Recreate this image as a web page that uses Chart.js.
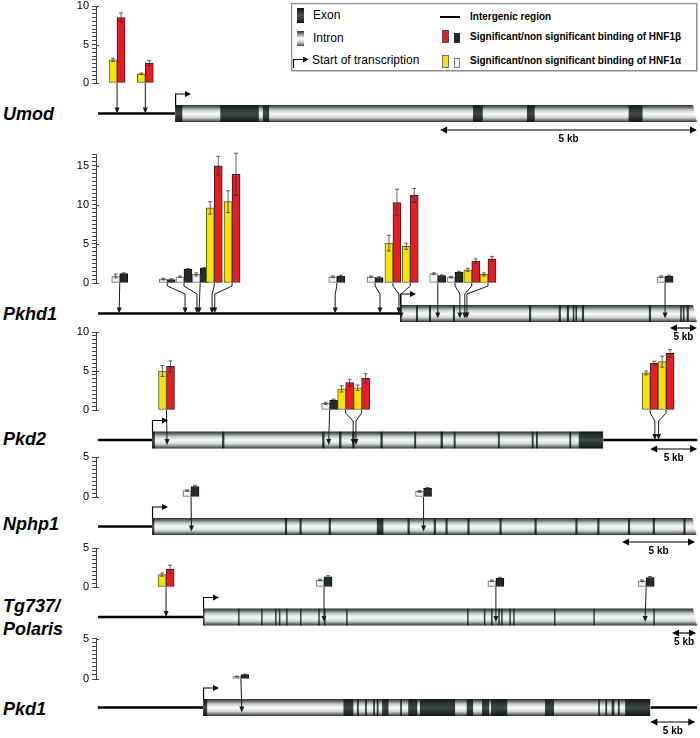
<!DOCTYPE html>
<html>
<head>
<meta charset="utf-8">
<script src="https://cdn.jsdelivr.net/npm/chart.js@4.4.1/dist/chart.umd.min.js"></script>
<style>
  body { margin: 0; width: 700px; height: 738px; position: relative; overflow: hidden; background: #fff;
         font-family: "Liberation Sans", Arial, sans-serif; }
  canvas { position: absolute; left: 0; }
  .gene { position: absolute; left: 3px; font: italic bold 18px "Liberation Sans", Arial, sans-serif; line-height: 20px; white-space: nowrap; }
  .lg { position: absolute; white-space: nowrap; color: #000; }
  .lg.n { font-size: 12px; line-height: 14px; }
  .lg.b { font-size: 10px; font-weight: bold; line-height: 12px; }
  #legendBox { position: absolute; left: 291px; top: 3px; width: 404px; height: 66px;
               border: 1px solid #8c8c8c; box-shadow: 1px 1px 0 #c8c8c8, inset 1px 1px 0 #e4e4e4; }
</style>
</head>
<body>

<div id="legendBox"></div>
<svg width="700" height="75" style="position:absolute;left:0;top:0">
  <defs>
    <linearGradient id="gExon" x1="0" y1="0" x2="0" y2="1">
      <stop offset="0" stop-color="#0d1514"/><stop offset="0.5" stop-color="#4d5654"/><stop offset="1" stop-color="#0d1514"/>
    </linearGradient>
    <linearGradient id="gIntron" x1="0" y1="0" x2="0" y2="1">
      <stop offset="0" stop-color="#2c3634"/><stop offset="0.25" stop-color="#9aa09f"/><stop offset="0.5" stop-color="#ffffff"/>
      <stop offset="0.75" stop-color="#c8cbca"/><stop offset="1" stop-color="#3a4442"/>
    </linearGradient>
  </defs>
  <rect x="297" y="8" width="7" height="15" fill="url(#gExon)"/>
  <rect x="297" y="31" width="7" height="15" fill="url(#gIntron)"/>
  <path d="M293.5 68 V59.5 H304" stroke="#000" stroke-width="1.2" fill="none"/>
  <polygon points="303,56.5 308.5,59.5 303,62.5" fill="#000"/>
  <line x1="440" y1="17" x2="460" y2="17" stroke="#000" stroke-width="2"/>
  <rect x="442.5" y="30.5" width="6" height="12" fill="#e21e26" stroke="#333" stroke-width="0.8"/>
  <rect x="454.5" y="33.5" width="5" height="9" fill="#1f2d2b" stroke="#111" stroke-width="0.8"/>
  <rect x="442.5" y="55.5" width="6" height="12" fill="#f4e20c" stroke="#555" stroke-width="0.8"/>
  <rect x="454.5" y="58.5" width="5" height="9" fill="#f4f4f4" stroke="#666" stroke-width="0.8"/>
</svg>
<span class="lg n" style="left:313px;top:8px">Exon</span>
<span class="lg n" style="left:313px;top:31px">Intron</span>
<span class="lg n" style="left:312px;top:53px">Start of transcription</span>
<span class="lg b" style="left:470px;top:11px">Intergenic region</span>
<span class="lg b" style="left:470px;top:31px">Significant/non significant binding of HNF1β</span>
<span class="lg b" style="left:470px;top:55px">Significant/non significant binding of HNF1α</span>

<div class="gene" style="top:104px">Umod</div>
<div class="gene" style="top:304px">Pkhd1</div>
<div class="gene" style="top:429px">Pkd2</div>
<div class="gene" style="top:514px">Nphp1</div>
<div class="gene" style="top:596px">Tg737/</div>
<div class="gene" style="top:619px">Polaris</div>
<div class="gene" style="top:699px">Pkd1</div>

<script>
// y-axis labels (fold enrichment), minor ticks every 0.5
const majorTicks = [0, 5, 10, 15];

// all positions in kb relative to the start of transcription
// gene = [intergenic start, gene start, gene end, intergenic end (null = gene continues)]

// Umod
const umodView = [-1.54, 10.18];
const umodGene = [-1.5, 0, 10.16, null];
const umodExons = [[0, 0.14], [0.88, 1.63], [1.71, 1.83], [5.8, 5.99], [6.85, 7.0], [8.83, 9.1]];
const umodScale = [5.16, 10.16];
const umodBarPos = [-1.13, -0.58];
const umodSites = [-1.13, -0.58];
const umodAlpha = [3.0, 1.2];
const umodAlphaErr = [0.2, 0.1];
const umodBeta = [8.5, 2.6];
const umodBetaErr = [0.6, 0.35];
const umodSig = [true, true];

// Pkhd1
const pkhd1View = [-56.3, 55.2];
const pkhd1Gene = [-55.9, 0, 55.0, null];
const pkhd1Exons = [[0, 0.2], [2.96, 3.33], [5.37, 5.74], [9.81, 10.18], [23.9, 24.3], [29.4, 29.8], [30.9, 31.3],
  [32.0, 32.3], [32.5, 32.8], [33.7, 34.1], [46.1, 46.5], [51.9, 52.2], [52.4, 52.7], [53.1, 53.5]];
const pkhd1Scale = [50.0, 55.0];
const pkhd1BarPos = [-51.9, -43.1, -40.0, -37.0, -34.4, -31.1, -11.7, -4.6, -1.3, 1.9, 7.0, 10.2, 13.3, 16.3, 49.1];
const pkhd1Sites = [-52.0, -39.8, -37.6, -37.2, -34.8, -34.3, -12.0, -3.7, -0.2, 0.2, 7.0, 11.1, 12.0, 12.4, 49.1];
const pkhd1Alpha = [0.9, 0.5, 0.8, 1.1, 9.6, 10.4, 0.8, 0.8, 5.1, 4.7, 1.2, 0.75, 1.7, 1.1, 0.8];
const pkhd1AlphaErr = [0.25, 0.1, 0.1, 0.2, 0.8, 1.4, 0.1, 0.1, 1.0, 0.4, 0.1, 0.1, 0.2, 0.2, 0.1];
const pkhd1Beta = [1.2, 0.45, 1.75, 1.9, 15.0, 13.9, 0.9, 0.7, 10.3, 11.2, 0.95, 1.4, 2.8, 3.1, 0.9];
const pkhd1BetaErr = [0.1, 0.1, 0.1, 0.1, 1.2, 2.7, 0.1, 0.1, 1.7, 0.9, 0.1, 0.1, 0.3, 0.3, 0.1];
const pkhd1Sig = [false, false, false, false, true, true, false, false, true, true, false, false, true, true, false];

// Pkd2
const pkd2View = [-5.96, 58.09];
const pkd2Gene = [-5.74, 0, 48.0, 58.0];
const pkd2Exons = [[0, 0.3], [7.45, 7.7], [18.1, 18.35], [19.9, 20.15], [21.3, 21.55], [24.3, 24.55], [27.9, 28.1],
  [30.7, 30.95], [32.1, 32.3], [36.8, 37.0], [40.4, 40.6], [40.85, 41.05], [44.4, 44.6], [45.4, 48.0]];
const pkd2Scale = [53.0, 58.0];
const pkd2BarPos = [1.54, 18.9, 20.6, 22.3, 53.0, 54.7];
const pkd2Sites = [1.6, 18.8, 21.4, 21.7, 53.5, 53.9];
const pkd2Alpha = [5.0, 0.85, 2.7, 2.85, 4.75, 6.2];
const pkd2AlphaErr = [0.7, 0.15, 0.4, 0.35, 0.25, 0.7];
const pkd2Beta = [5.6, 1.25, 3.5, 4.05, 6.0, 7.25];
const pkd2BetaErr = [0.7, 0.15, 0.45, 0.6, 0.25, 0.5];
const pkd2Sig = [true, false, true, true, true, true];

// Nphp1
const nphp1View = [-3.84, 37.4];
const nphp1Gene = [-3.7, 0, 37.3, null];
const nphp1Exons = [[0, 0.15], [9.1, 9.25], [10.1, 10.25], [12.1, 12.25], [15.4, 15.85], [17.5, 17.65], [19.3, 19.45],
  [20.1, 20.25], [21.6, 21.75], [23.8, 23.95], [26.2, 26.35], [29.0, 29.15], [30.5, 30.65], [32.6, 32.75],
  [34.3, 34.45], [36.4, 36.55]];
const nphp1Scale = [32.2, 37.2];
const nphp1BarPos = [2.67, 18.6];
const nphp1Sites = [2.7, 18.6];
const nphp1Alpha = [0.8, 0.7];
const nphp1AlphaErr = [0.1, 0.1];
const nphp1Beta = [1.3, 1.1];
const nphp1BetaErr = [0.15, 0.1];
const nphp1Sig = [false, false];

// Tg737/Polaris
const tg737View = [-22.3, 103.1];
const tg737Gene = [-21.9, 0, 102.9, null];
const tg737Exons = [[0, 0.25], [7.3, 7.6], [12.1, 12.4], [15.0, 15.3], [15.8, 16.1], [17.3, 17.6], [20.2, 20.5],
  [24.0, 24.3], [25.2, 25.5], [29.8, 30.1], [55.0, 55.3], [58.5, 58.8], [60.0, 60.3], [61.5, 61.8], [62.1, 62.4],
  [63.8, 64.1], [64.6, 64.9], [73.1, 73.4], [81.3, 81.6], [93.8, 94.1]];
const tg737Scale = [97.7, 102.7];
const tg737BarPos = [-7.7, 25.2, 61.0, 92.3];
const tg737Sites = [-7.7, 25.2, 61.0, 92.1];
const tg737Alpha = [1.6, 0.9, 0.8, 0.8];
const tg737AlphaErr = [0.2, 0.1, 0.1, 0.1];
const tg737Beta = [2.3, 1.3, 1.1, 1.2];
const tg737BetaErr = [0.5, 0.15, 0.15, 0.15];
const tg737Sig = [true, false, false, false];

// Pkd1
const pkd1View = [-11.9, 55.0];
const pkd1Gene = [-11.7, 0, 49.7, 54.9];
const pkd1Exons = [[0, 0.45], [15.6, 16.7], [17.1, 17.3], [18.0, 18.2], [18.9, 19.1], [19.3, 19.5], [19.9, 20.6],
  [21.9, 22.1], [22.8, 23.8], [24.1, 28.0], [29.3, 30.0], [31.0, 31.8], [32.0, 33.8], [38.0, 39.0], [43.9, 44.1],
  [44.7, 44.9], [45.4, 45.7], [46.1, 46.3], [46.9, 49.7]];
const pkd1Scale = [49.7, 54.7];
const pkd1BarPos = [4.2];
const pkd1Sites = [4.3];
const pkd1Alpha = [0.3];
const pkd1AlphaErr = [0.05];
const pkd1Beta = [0.55];
const pkd1BetaErr = [0.05];
const pkd1Sig = [false];

const FONT = "'Liberation Sans', Arial, sans-serif";

// page geometry of each panel (pixels)
const panels = [
  { name: "umod", yMax: 10, view: umodView, gene: umodGene, exons: umodExons, scale: umodScale,
    barPos: umodBarPos, sites: umodSites, alpha: umodAlpha, alphaErr: umodAlphaErr, beta: umodBeta, betaErr: umodBetaErr, sig: umodSig,
    layout: { top: -6, height: 150, plotTop: 6, plotBottom: 83, geneY: 113.5, scaleY: 130 } },
  { name: "pkhd1", yMax: 16.5, view: pkhd1View, gene: pkhd1Gene, exons: pkhd1Exons, scale: pkhd1Scale,
    barPos: pkhd1BarPos, sites: pkhd1Sites, alpha: pkhd1Alpha, alphaErr: pkhd1AlphaErr, beta: pkhd1Beta, betaErr: pkhd1BetaErr, sig: pkhd1Sig,
    layout: { top: 142, height: 200, plotTop: 154, plotBottom: 283, geneY: 313.5, scaleY: 328 } },
  { name: "pkd2", yMax: 10, view: pkd2View, gene: pkd2Gene, exons: pkd2Exons, scale: pkd2Scale,
    barPos: pkd2BarPos, sites: pkd2Sites, alpha: pkd2Alpha, alphaErr: pkd2AlphaErr, beta: pkd2Beta, betaErr: pkd2BetaErr, sig: pkd2Sig,
    layout: { top: 320, height: 146, plotTop: 332, plotBottom: 410, geneY: 440, scaleY: 449 } },
  { name: "nphp1", yMax: 5, view: nphp1View, gene: nphp1Gene, exons: nphp1Exons, scale: nphp1Scale,
    barPos: nphp1BarPos, sites: nphp1Sites, alpha: nphp1Alpha, alphaErr: nphp1AlphaErr, beta: nphp1Beta, betaErr: nphp1BetaErr, sig: nphp1Sig,
    layout: { top: 445, height: 113, plotTop: 457, plotBottom: 497, geneY: 526.5, scaleY: 542 } },
  { name: "tg737", yMax: 5, view: tg737View, gene: tg737Gene, exons: tg737Exons, scale: tg737Scale,
    barPos: tg737BarPos, sites: tg737Sites, alpha: tg737Alpha, alphaErr: tg737AlphaErr, beta: tg737Beta, betaErr: tg737BetaErr, sig: tg737Sig,
    layout: { top: 536, height: 113, plotTop: 548, plotBottom: 587, geneY: 617, scaleY: 633 } },
  { name: "pkd1", yMax: 5, view: pkd1View, gene: pkd1Gene, exons: pkd1Exons, scale: pkd1Scale,
    barPos: pkd1BarPos, sites: pkd1Sites, alpha: pkd1Alpha, alphaErr: pkd1AlphaErr, beta: pkd1Beta, betaErr: pkd1BetaErr, sig: pkd1Sig,
    layout: { top: 626, height: 112, plotTop: 638.5, plotBottom: 679, geneY: 707.5, scaleY: 722 } },
];

/* small filled arrow head pointing in direction (dx, dy) */
function arrowHead(ctx, x, y, dx, dy, len, half) {
  ctx.beginPath();
  ctx.moveTo(x, y);
  ctx.lineTo(x - dx * len - dy * half, y - dy * len + dx * half);
  ctx.lineTo(x - dx * len + dy * half, y - dy * len - dx * half);
  ctx.closePath();
  ctx.fill();
}

/* Draws error bars, the gene diagram, binding site arrows and the 5 kb scale. */
function makeGenePlugin(p) {
  return {
    id: "gene_" + p.name,
    afterDatasetsDraw(chart) {
      const ctx = chart.ctx;
      const xs = chart.scales.x;
      const ys = chart.scales.y;
      const L = p.layout;
      const X = (v) => xs.getPixelForValue(v);
      const gy = L.geneY - L.top;
      const h = 17;
      const top = gy - h / 2;
      const zeroY = ys.getPixelForValue(0);

      ctx.save();

      // major ticks cross the axis
      ctx.strokeStyle = "#444";
      ctx.lineWidth = 1;
      majorTicks.filter((v) => v <= p.yMax).forEach((v) => {
        const ty = Math.round(ys.getPixelForValue(v)) + 0.5;
        ctx.beginPath();
        ctx.moveTo(chart.chartArea.left, ty);
        ctx.lineTo(chart.chartArea.left + 3, ty);
        ctx.stroke();
      });

      // error bars
      [[p.alpha, p.alphaErr], [p.beta, p.betaErr]].forEach(([vals, errs], d) => {
        chart.getDatasetMeta(d).data.forEach((bar, j) => {
          const yHi = ys.getPixelForValue(vals[j] + errs[j]);
          const yLo = ys.getPixelForValue(Math.max(0, vals[j] - errs[j]));
          ctx.strokeStyle = "rgba(50,50,50,0.75)";
          ctx.lineWidth = 1;
          ctx.beginPath();
          ctx.moveTo(bar.x, yLo);
          ctx.lineTo(bar.x, yHi);
          ctx.moveTo(bar.x - 2, yHi);
          ctx.lineTo(bar.x + 2, yHi);
          ctx.moveTo(bar.x - 2, yLo);
          ctx.lineTo(bar.x + 2, yLo);
          ctx.stroke();
        });
      });

      // intergenic region
      ctx.strokeStyle = "#000";
      ctx.lineWidth = 2.5;
      ctx.beginPath();
      ctx.moveTo(X(p.gene[0]), gy);
      ctx.lineTo(X(p.gene[1]), gy);
      if (p.gene[3] !== null) {
        ctx.moveTo(X(p.gene[2]), gy);
        ctx.lineTo(X(p.gene[3]), gy);
      }
      ctx.stroke();

      // gene tube
      const x0 = X(p.gene[1]);
      const x1 = X(p.gene[2]);
      const open = p.gene[3] === null;
      const tube = () => {
        ctx.beginPath();
        ctx.moveTo(x0, top);
        ctx.lineTo(open ? x1 - 4 : x1, top);
        ctx.lineTo(x1, top + h);
        ctx.lineTo(x0, top + h);
        ctx.closePath();
      };
      const gi = ctx.createLinearGradient(0, top, 0, top + h);
      gi.addColorStop(0, "#27312f");
      gi.addColorStop(0.12, "#5f6866");
      gi.addColorStop(0.3, "#c9cccb");
      gi.addColorStop(0.5, "#f8f8f8");
      gi.addColorStop(0.72, "#d9dbda");
      gi.addColorStop(0.9, "#6d7674");
      gi.addColorStop(1, "#2a3432");
      tube();
      ctx.fillStyle = gi;
      ctx.fill();

      const ge = ctx.createLinearGradient(0, top, 0, top + h);
      ge.addColorStop(0, "#111a19");
      ge.addColorStop(0.5, "#3f4a48");
      ge.addColorStop(1, "#111a19");
      ctx.save();
      tube();
      ctx.clip();
      ctx.fillStyle = ge;
      p.exons.forEach(([a, b]) => {
        const xa = X(a);
        ctx.fillRect(xa, top, Math.max(1.5, X(b) - xa), h);
      });
      ctx.restore();

      // start of transcription
      ctx.strokeStyle = "#000";
      ctx.fillStyle = "#000";
      ctx.lineWidth = 1.2;
      ctx.beginPath();
      ctx.moveTo(x0 + 0.5, top);
      ctx.lineTo(x0 + 0.5, top - 11);
      ctx.lineTo(x0 + 11, top - 11);
      ctx.stroke();
      arrowHead(ctx, x0 + 16, top - 11, 1, 0, 6, 3);

      // binding site arrows
      ctx.strokeStyle = "#1a1a1a";
      ctx.fillStyle = "#1a1a1a";
      ctx.lineWidth = 1;
      p.barPos.forEach((bp, i) => {
        const bx = X(bp);
        const sx = X(p.sites[i]);
        const inGene = p.sites[i] > p.gene[1] && p.sites[i] < p.gene[2];
        const tip = inGene ? gy + 5 : gy;
        ctx.beginPath();
        ctx.moveTo(bx, zeroY);
        if (Math.abs(bx - sx) > 1.5) {
          ctx.lineTo(bx, zeroY + 3);
          ctx.lineTo(sx, zeroY + 11);
        }
        ctx.lineTo(sx, tip - 4);
        ctx.stroke();
        arrowHead(ctx, sx, tip, 0, 1, 6, 2.5);
      });

      // 5 kb scale
      const s0 = X(p.scale[0]);
      const s1 = X(p.scale[1]);
      const sy = L.scaleY - L.top;
      ctx.strokeStyle = "#000";
      ctx.fillStyle = "#000";
      ctx.lineWidth = 1.2;
      ctx.beginPath();
      ctx.moveTo(s0 + 4, sy);
      ctx.lineTo(s1 - 4, sy);
      ctx.stroke();
      arrowHead(ctx, s0, sy, -1, 0, 7, 3.5);
      arrowHead(ctx, s1, sy, 1, 0, 7, 3.5);
      ctx.font = "bold 10px " + FONT;
      ctx.textAlign = "center";
      ctx.textBaseline = "middle";
      ctx.fillText("5 kb", (s0 + s1) / 2, sy + 9);

      ctx.restore();
    },
  };
}

function buildPanel(p) {
  const L = p.layout;
  const canvas = document.createElement("canvas");
  canvas.width = 700;
  canvas.height = L.height;
  canvas.style.top = L.top + "px";
  canvas.style.width = "700px";
  canvas.style.height = L.height + "px";
  document.body.appendChild(canvas);

  const alphaColors = p.sig.map((s) => (s ? "#f4e20c" : "#f2f2f2"));
  const alphaBorders = p.sig.map((s) => (s ? "#5e5a22" : "#6e6e6e"));
  const betaColors = p.sig.map((s) => (s ? "#e21e26" : "#1f2d2b"));
  const betaBorders = p.sig.map((s) => (s ? "#4a1616" : "#0c1211"));

  new Chart(canvas, {
    type: "bar",
    data: {
      datasets: [
        {
          label: "HNF1α",
          data: p.barPos.map((x, i) => ({ x: x, y: p.alpha[i] })),
          backgroundColor: alphaColors,
          borderColor: alphaBorders,
          borderWidth: 1,
          borderSkipped: false,
          barThickness: 8,
        },
        {
          label: "HNF1β",
          data: p.barPos.map((x, i) => ({ x: x, y: p.beta[i] })),
          backgroundColor: betaColors,
          borderColor: betaBorders,
          borderWidth: 1,
          borderSkipped: false,
          barThickness: 8,
        },
      ],
    },
    options: {
      responsive: false,
      animation: false,
      devicePixelRatio: 1,
      events: [],
      layout: {
        padding: { left: 0, right: 2, top: L.plotTop - L.top, bottom: L.top + L.height - L.plotBottom },
      },
      plugins: { legend: { display: false }, tooltip: { enabled: false } },
      scales: {
        x: { type: "linear", min: p.view[0], max: p.view[1], display: false, offset: false },
        y: {
          min: 0,
          max: p.yMax,
          afterFit: (scale) => { scale.width = 96; },
          ticks: {
            stepSize: 0.5,
            autoSkip: false,
            padding: 3,
            color: "#000",
            font: { family: FONT, size: 11 },
            callback: (v) => (majorTicks.includes(v) ? String(v) : ""),
          },
          grid: { drawOnChartArea: false, tickLength: 4, color: "#444" },
          border: { color: "#444", width: 1 },
        },
      },
    },
    plugins: [makeGenePlugin(p)],
  });
}

document.addEventListener("DOMContentLoaded", function () {
  panels.forEach(buildPanel);
});
</script>
</body>
</html>
